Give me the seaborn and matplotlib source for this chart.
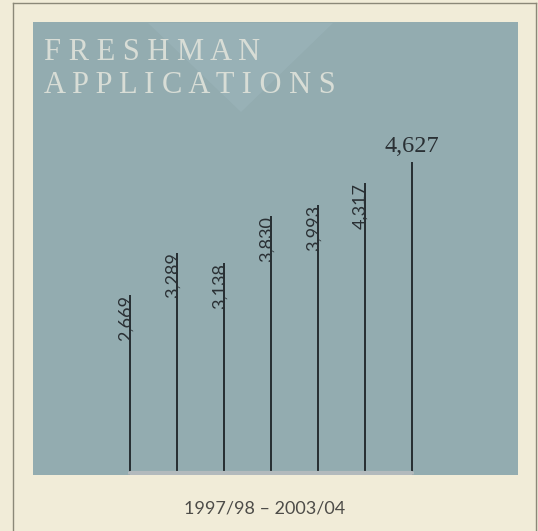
import matplotlib
matplotlib.use("Agg")
import matplotlib.pyplot as plt
from matplotlib.lines import Line2D
from matplotlib.patches import Polygon
import seaborn as sns
import pandas as pd

# ---- data ----
years = ["1997/98", "1998/99", "1999/00", "2000/01", "2001/02", "2002/03", "2003/04"]
applications = [2669, 3289, 3138, 3830, 3993, 4317, 4627]
value_labels = ["2,669", "3,289", "3,138", "3,830", "3,993", "4,317", "4,627"]
title_lines = ["F R E S H M A N", "A P P L I C A T I O N S"]
caption = "1997/98 \u2013 2003/04"

df = pd.DataFrame({"year": years, "apps": applications})

W, H = 538, 531
fig = plt.figure(figsize=(W / 100, H / 100), dpi=100)
fig.patch.set_facecolor("#f1ecd8")

ax_left, ax_w = 33, 485
ax = fig.add_axes([ax_left / W, 56 / H, ax_w / W, 453 / H])
ax.set_facecolor("#93acb0")

step = 47.0  # pixels between stems
sns.barplot(data=df, x="year", y="apps", width=1.8 / step, color="#283034",
            saturation=1, linewidth=0, ax=ax)

xmin = -(130 - ax_left) / step
ax.set_xlim(xmin, xmin + ax_w / step)
ax.set_ylim(0, 6700)
for s in ax.spines.values():
    s.set_visible(False)
ax.set_xticks([])
ax.set_yticks([])
ax.set_xlabel("")
ax.set_ylabel("")

# faint base strip
ax.plot([0, 6], [25, 25], color="#b3babd", lw=3, solid_capstyle="round", zorder=1)

# value labels
for i, (v, lab) in enumerate(zip(applications, value_labels)):
    if i < len(applications) - 1:
        ax.annotate(lab, xy=(i, v), xytext=(2.4, 0), textcoords="offset points",
                    rotation=90, ha="right", va="top", fontsize=13,
                    family="Lato", color="#2a3034")
    else:
        ax.annotate(lab, xy=(i, v), xytext=(0, 3.5), textcoords="offset points",
                    ha="center", va="bottom", fontsize=17.5,
                    family="Liberation Serif", color="#2a3034")

# faint triangle overlay at top
tri = Polygon([(148 / W, 1 - 23 / H), (333 / W, 1 - 23 / H), (241 / W, 1 - 112 / H)],
              closed=True, transform=fig.transFigure, facecolor="#a2bbc3",
              edgecolor="none", alpha=0.35, zorder=1)
fig.add_artist(tri)

# title
fig.text(44 / W, 1 - 38 / H, title_lines[0], ha="left", va="top", fontsize=22,
         family="Liberation Serif", color="#d8ddd6", zorder=3)
fig.text(44 / W, 1 - 71 / H, title_lines[1], ha="left", va="top", fontsize=22,
         family="Liberation Serif", color="#d8ddd6", zorder=3)

# caption
fig.text(265 / W, 1 - 508 / H, caption, ha="center", va="center", fontsize=13,
         family="Lato", color="#4d4c48")

# frame lines
fc = "#8b8878"
fig.add_artist(Line2D([13 / W, 536 / W], [1 - 3 / H, 1 - 3 / H], color=fc, lw=1))
fig.add_artist(Line2D([13 / W, 13 / W], [1 - 3 / H, 0], color=fc, lw=1))
fig.add_artist(Line2D([536 / W, 536 / W], [1 - 3 / H, 0], color=fc, lw=1))

fig.savefig("out.png", dpi=100, facecolor=fig.get_facecolor())
